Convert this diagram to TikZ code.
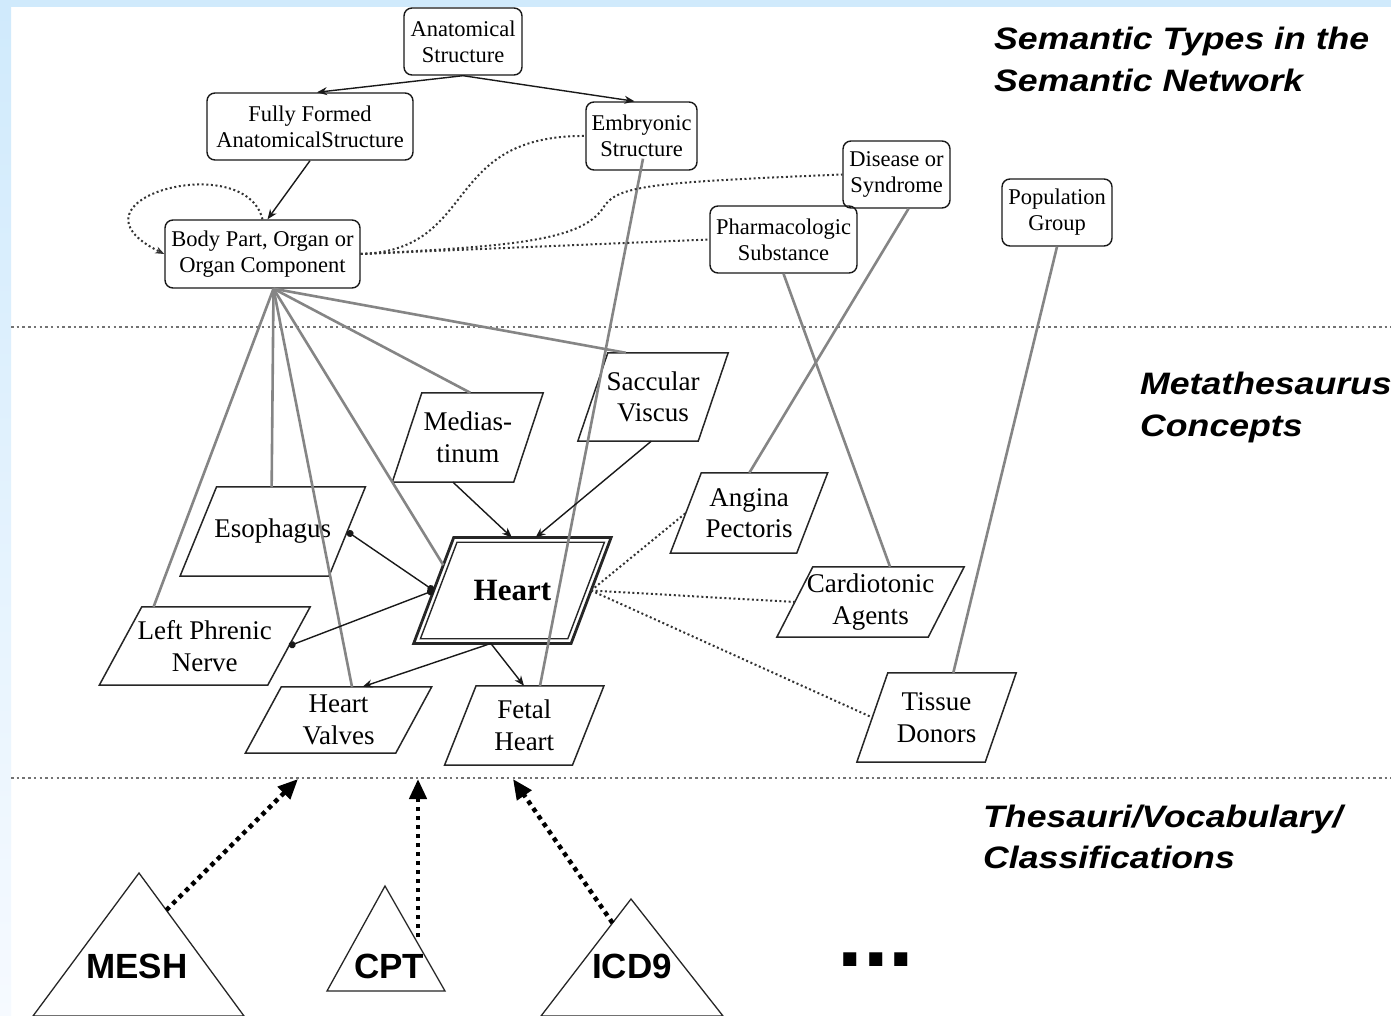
\documentclass[tikz,border=0pt]{standalone}
\usepackage{fontspec}
\setmainfont{Liberation Serif}
\newfontfamily\titlefont[FakeStretch=1.15]{Liberation Sans}
\newfontfamily\vocfont{Liberation Sans}
\usetikzlibrary{arrows.meta,calc}
\definecolor{topblue}{RGB}{208,234,252}
\definecolor{lowblue}{RGB}{246,250,255}
\newcommand\mkpgram[8][]{%
  \node[ctext,minimum width=#5pt,minimum height=#6pt,#1] (#2) at (#3,#4) {#8};
  \coordinate (#2-tl) at ($(#2.north west)+(#7/2,0)$);
  \coordinate (#2-tr) at ($(#2.north east)+(#7/2,0)$);
  \coordinate (#2-br) at ($(#2.south east)-(#7/2,0)$);
  \coordinate (#2-bl) at ($(#2.south west)-(#7/2,0)$);
  \draw[pbox] (#2-tl) -- (#2-tr) -- (#2-br) -- (#2-bl) -- cycle;
}
\begin{document}
\begin{tikzpicture}[x=1pt,y=-1pt,
  stype/.style={draw=black!90,line width=1.4pt,rounded corners=8pt,align=center,
    font=\fontsize{22.5}{26}\selectfont,inner sep=0pt,minimum height=67pt},
  ctext/.style={align=center,font=\fontsize{27}{31.5}\selectfont,inner sep=0pt},
  pbox/.style={draw=black!85,line width=1.5pt},
  gline/.style={draw=black!48,line width=2.6pt},
  barr/.style={draw=black!90,line width=1.4pt,-{Stealth[length=10pt,width=8pt]}},
  bdot/.style={draw=black!90,line width=1.4pt,{Circle[length=7pt]}-{Circle[length=7pt]}},
  dline/.style={draw=black!80,line width=2pt,dash pattern=on 2pt off 2.6pt},
  secline/.style={draw=black!55,line width=2pt,dash pattern=on 2.5pt off 3.2pt},
  title/.style={font=\titlefont\bfseries\itshape\fontsize{31}{40}\selectfont,inner sep=0pt,anchor=base west},
  tri/.style={draw=black!85,line width=1.3pt},
  voc/.style={font=\vocfont\bfseries\fontsize{35}{35}\selectfont,inner sep=0pt,anchor=base},
  dotarr/.style={draw=black,line width=4.5pt,dash pattern=on 4.5pt off 4.5pt,
    -{Triangle[length=20pt,width=17pt]}}
]
\useasboundingbox (0,0) rectangle (1391,1016);
% background
\fill[white] (0,0) rectangle (1391,1016);
\fill[topblue] (0,0) rectangle (1391,7);
\shade[top color=topblue,bottom color=lowblue] (0,7) rectangle (11,1016);

% section separators
\coordinate (s1l) at (11,327); \coordinate (s1r) at (1391,327);
\coordinate (s2l) at (11,778); \coordinate (s2r) at (1391,778);
\draw[secline] (s1l) -- (s1r);
\draw[secline] (s2l) -- (s2r);

% titles
\node[title] (t1) at (994,50) {Semantic Types in the};
\node[title] (t2) at (994,92) {Semantic Network};
\node[title] (t3) at (1140,394) {Metathesaurus};
\node[title] (t4) at (1140,436) {Concepts};
\node[title] (t5) at (983,827) {Thesauri/Vocabulary/};
\node[title] (t6) at (983,868) {Classifications};

% semantic types
\node[stype,minimum width=118pt] (anat) at (463,41.5) {Anatomical\\Structure};
\node[stype,minimum width=206pt] (full) at (310,126.5) {Fully Formed\\AnatomicalStructure};
\node[stype,minimum width=111pt,minimum height=68pt] (emb) at (641.5,136) {Embryonic\\Structure};
\node[stype,minimum width=195pt,minimum height=68pt] (body) at (262.5,254) {Body Part, Organ or\\Organ Component};
\node[stype,minimum width=107pt] (dis) at (896.5,174.5) {Disease or\\Syndrome};
\node[stype,minimum width=147pt] (pharm) at (783.5,239.5) {Pharmacologic\\Substance};
\node[stype,minimum width=110pt] (pop) at (1057,212.5) {Population\\Group};

% concepts
\mkpgram{sacc}{653}{397}{120}{88}{30}{Saccular\\Viscus}
\mkpgram{med}{467.75}{437.5}{121}{89}{29.5}{Medias-\\tinum}
\mkpgram{eso}{272.75}{531.5}{148.5}{89}{36.5}{Esophagus}
\mkpgram{lpn}{204.75}{646}{168}{78}{42.5}{Left Phrenic\\Nerve}
\mkpgram{valv}{338.5}{720}{150}{66}{36}{Heart\\Valves}
\mkpgram{fetal}{524.25}{725.5}{127.5}{79}{31.5}{Fetal\\Heart}
\mkpgram{ang}{749}{513}{126}{80}{31}{Angina\\Pectoris}
\mkpgram{card}{870.5}{602}{151}{70}{36}{Cardiotonic\\Agents}
\mkpgram{tis}{936.5}{717.5}{128}{89}{31}{Tissue\\Donors}
% heart (double border)
\node[ctext,minimum width=157pt,minimum height=105.5pt,font=\bfseries\fontsize{31}{31}\selectfont] (heart) at (512.4,590.5) {Heart};
\coordinate (heart-tl) at ($(heart.north west)+(20,0)$);
\coordinate (heart-tr) at ($(heart.north east)+(20,0)$);
\coordinate (heart-br) at ($(heart.south east)-(20,0)$);
\coordinate (heart-bl) at ($(heart.south west)-(20,0)$);
\draw[pbox,line width=2.8pt] (heart-tl) -- (heart-tr) -- (heart-br) -- (heart-bl) -- cycle;
\draw[pbox,line width=1.4pt] ($(heart)+(-55.4,-48.25)$) -- ($(heart)+(92,-48.25)$)
  -- ($(heart)+(55.4,48.25)$) -- ($(heart)+(-92,48.25)$) -- cycle;

% grey relation lines
\draw[gline] ([xshift=11pt]body.south) -- ($(lpn-tl)!0.07!(lpn-tr)$);
\draw[gline] ([xshift=11pt]body.south) -- ($(eso-tl)!0.37!(eso-tr)$);
\draw[gline] ([xshift=11pt]body.south) -- ($(valv-tl)!0.47!(valv-tr)$);
\draw[gline] ([xshift=11pt]body.south) -- ($(heart-tl)!0.26!(heart-bl)$);
\draw[gline] ([xshift=11pt]body.south) -- ($(med-tl)!0.4!(med-tr)$);
\draw[gline] ([xshift=11pt]body.south) -- ($(sacc-tl)!0.15!(sacc-tr)$);
\draw[gline] ([shift={(1.5,-12)}]emb.south) -- ($(fetal-tl)!0.5!(fetal-tr)$);
\draw[gline] ([xshift=12pt]dis.south) -- ($(ang-tl)!0.38!(ang-tr)$);
\draw[gline] (pharm.south) -- ($(card-tl)!0.51!(card-tr)$);
\draw[gline] (pop.south) -- ($(tis-tl)!0.51!(tis-tr)$);

% black arrows
\draw[barr] (anat.south) -- ([xshift=7pt]full.north);
\draw[barr] (anat.south) -- ([xshift=-7pt]emb.north);
\draw[barr] (full.south) -- ([xshift=5pt]body.north);
\draw[barr] ($(med-bl)!0.5!(med-br)$) -- ($(heart-tl)!0.37!(heart-tr)$);
\draw[barr] ($(sacc-bl)!0.61!(sacc-br)$) -- ($(heart-tl)!0.52!(heart-tr)$);
\draw[barr] ($(heart-bl)!0.49!(heart-br)$) -- ($(valv-tl)!0.54!(valv-tr)$);
\draw[barr] ($(heart-bl)!0.49!(heart-br)$) -- ($(fetal-tl)!0.375!(fetal-tr)$);
\draw[bdot] (eso.east) -- (heart.west);
\draw[bdot] (lpn.east) -- (heart.west);

% dotted relations
\draw[dline,-{Stealth[length=9pt,width=7pt]}] (body.north) .. controls (245,148) and (55,200) .. (body.west);
\draw[dline] (body.east) .. controls (480,250) and (440,135) .. (emb.west);
\draw[dline] (body.east) .. controls (520,246) and (585,240) .. (605,205) .. controls (620,185) and (660,182) .. (dis.west);
\draw[dline] (body.east) -- (pharm.west);
\draw[dline] (heart.east) -- (ang.west);
\draw[dline] (heart.east) -- (card.west);
\draw[dline] (heart.east) -- (tis.west);

% vocabularies
\coordinate (meshA) at (139,873); \coordinate (meshR) at (244,1016); \coordinate (meshL) at (33,1016);
\draw[tri] (meshA) -- (meshR) -- (meshL) -- cycle;
\node[voc] (mesh) at (137,978) {MESH};
\coordinate (cptA) at (385,886); \coordinate (cptR) at (445,991); \coordinate (cptL) at (327,991);
\draw[tri] (cptA) -- (cptR) -- (cptL) -- cycle;
\node[voc] (cpt) at (389,978) {CPT};
\coordinate (icdA) at (631,899); \coordinate (icdR) at (723,1016); \coordinate (icdL) at (541,1016);
\draw[tri] (icdA) -- (icdR) -- (icdL) -- cycle;
\node[voc] (icd) at (632,978) {ICD9};
\node[font=\vocfont\bfseries\fontsize{92}{92}\selectfont,inner sep=0pt,anchor=base] (more) at (876,966) {...};

\coordinate (meshS) at ($(meshA)!0.26!(meshR)$);
\coordinate (meshT) at (298,779);
\coordinate (cptS) at (418,937);
\coordinate (cptT) at (418,779);
\coordinate (icdS) at ($(icdA)!0.205!(icdL)$);
\coordinate (icdT) at (513,779);
\draw[dotarr] (meshS) -- (meshT);
\draw[dotarr] (cptS) -- (cptT);
\draw[dotarr] (icdS) -- (icdT);
\end{tikzpicture}
\end{document}
